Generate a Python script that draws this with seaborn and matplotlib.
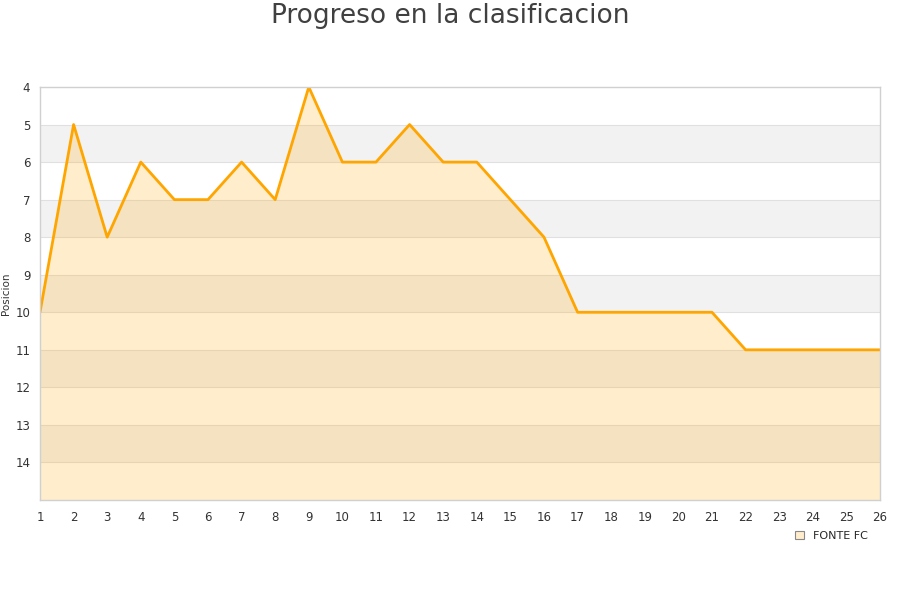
import matplotlib
matplotlib.use("Agg")
import matplotlib.pyplot as plt
import seaborn as sns
import pandas as pd
from matplotlib.patches import Patch

jornadas = list(range(1, 27))
posicion = [10, 5, 8, 6, 7, 7, 6, 7, 4, 6, 6, 5, 6, 6, 7, 8, 10, 10, 10, 10, 10, 11, 11, 11, 11, 11]
equipo = "FONTE FC"
titulo = "Progreso en la clasificacion"
y_ticks = list(range(4, 15))

sns.set_theme(style="white")
plt.rcParams['font.family'] = ['DejaVu Sans']

df = pd.DataFrame({"Jornada": jornadas, "Posicion": posicion})

fig = plt.figure(figsize=(9, 6), dpi=100)
ax = fig.add_axes([40/900, 100/600, 840/900, 413/600])

ymin, ymax = 4, 15
# alternating bands
for b in range(5, 15, 2):
    ax.axhspan(b, b + 1, color="#f2f2f2", zorder=0, lw=0)
for yv in range(5, 15):
    ax.axhline(yv, color="#e0e0e0", lw=0.8, zorder=0.5)

ax.fill_between(df["Jornada"], df["Posicion"], ymax, color="#FFA500", alpha=0.2, lw=0, zorder=1)
sns.lineplot(data=df, x="Jornada", y="Posicion", ax=ax, color="#FFA500", lw=2.0, zorder=2)

ax.set_xlim(1, 26)
ax.set_ylim(ymax, ymin)
ax.set_xticks(jornadas)
ax.set_yticks(y_ticks)
ax.tick_params(axis="x", labelsize=8.5, colors="#333333", length=0, pad=8)
ax.tick_params(axis="y", labelsize=8.5, colors="#333333", length=0, pad=7)
ax.set_xlabel("")
ax.set_ylabel("Posicion", fontsize=7.5, color="#333333")
ax.yaxis.set_label_coords(-0.0345, 0.5)
for s in ax.spines.values():
    s.set_color("#d0d0d0")
    s.set_linewidth(1)

fig.suptitle(titulo, fontsize=19, color="#404040", y=0.995)

handle = Patch(facecolor="#FFEDCC", edgecolor="#888888", linewidth=0.8)
fig.legend([handle], [equipo], loc="center right", bbox_to_anchor=(0.975, 0.107),
           frameon=False, fontsize=8, handlelength=0.8, handleheight=0.8, handletextpad=0.8)

fig.savefig("out.png", dpi=100)
